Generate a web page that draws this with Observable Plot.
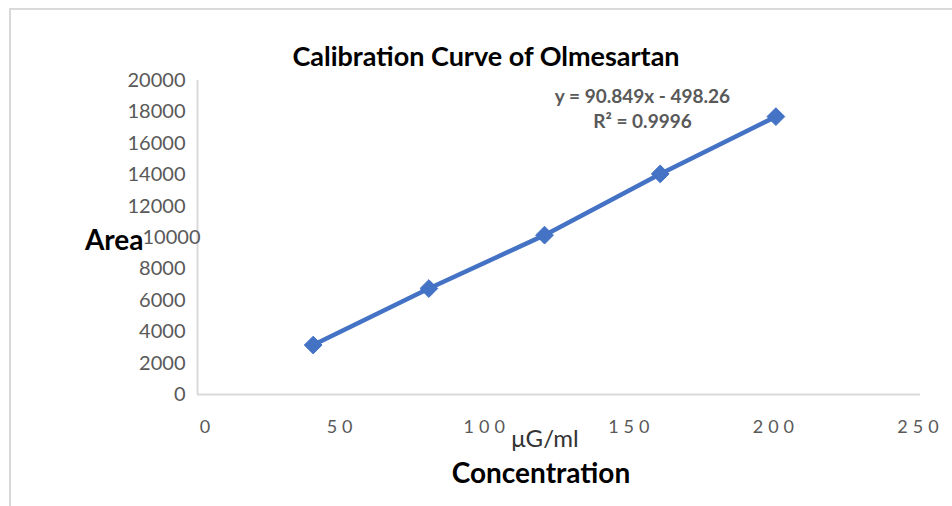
<!DOCTYPE html>
<html>
<head>
<meta charset="utf-8">
<script src="https://cdn.jsdelivr.net/npm/d3@7"></script>
<script src="https://cdn.jsdelivr.net/npm/@observablehq/plot@0.6"></script>
<style>
  html, body { margin: 0; padding: 0; background: #fff; }
  #wrap { position: relative; width: 952px; height: 506px; overflow: hidden; }
  #border { position: absolute; left: 9px; top: 8px; width: 1000px; height: 600px;
            border-left: 2px solid #d9d9d9; border-top: 2px solid #d9d9d9; }
  #chart { position: absolute; left: 0; top: 0; }
  g[aria-label="x-axis tick label"] text { letter-spacing: 5px; }
</style>
</head>
<body>
<div id="wrap"><div id="border"></div><div id="chart"></div></div>
<script>
const concentration = [40, 80, 120, 160, 200];
const area = [3150, 6750, 10150, 14050, 17700];
const xTicks = [0, 50, 100, 150, 200, 250];
const yTicks = [0, 2000, 4000, 6000, 8000, 10000, 12000, 14000, 16000, 18000, 20000];
const titleText = "Calibration Curve of Olmesartan";
const equationText = "y = 90.849x - 498.26\nR² = 0.9996";
const xUnit = "μG/ml";
const xLabel = "Concentration";
const yLabel = "Area";

const data = concentration.map((c, i) => ({c, a: area[i]}));
const font = "Lato, 'Open Sans', sans-serif";
const blue = "#4472C4";

const chart = Plot.plot({
  width: 952,
  height: 506,
  marginLeft: 197,
  marginRight: 32,
  marginTop: 80,
  marginBottom: 112,
  style: {fontFamily: font, background: "transparent", overflow: "visible"},
  x: {domain: [0, 250], label: null},
  y: {domain: [0, 20000], label: null},
  marks: [
    Plot.ruleY([0], {stroke: "#d9d9d9", strokeWidth: 2}),
    Plot.ruleX([0], {stroke: "#d9d9d9", strokeWidth: 2}),
    Plot.axisX({ticks: xTicks, tickSize: 0, tickPadding: 26, fontSize: 18, fill: "#595959", label: null}),
    Plot.axisY({ticks: yTicks, tickSize: 0, tickPadding: 12, fontSize: 20, fill: "#595959", label: null, tickFormat: d => String(d)}),
    Plot.line(data, {x: "c", y: "a", stroke: blue, strokeWidth: 4.5}),
    Plot.dot(data, {x: "c", y: "a", symbol: "diamond2", r: 8, fill: blue, stroke: blue, strokeWidth: 1}),
    Plot.text([titleText], {frameAnchor: "top", dx: -73, dy: -34, fontSize: 27, fontWeight: "bold", fill: "#000", text: d => d}),
    Plot.text([equationText], {frameAnchor: "top-left", dx: 445, dy: 5, fontSize: 19, fontWeight: "bold", fill: "#595959", lineHeight: 1.3, textAnchor: "middle", text: d => d}),
    Plot.text([yLabel], {frameAnchor: "left", dx: -54, dy: 4, fontSize: 28, fontWeight: "bold", fill: "#000", textAnchor: "end", text: d => d}),
    Plot.text([xUnit], {frameAnchor: "bottom", dx: -14, dy: 52, fontSize: 24, fill: "#333", text: d => d}),
    Plot.text([xLabel], {frameAnchor: "bottom", dx: -18, dy: 88, fontSize: 28, fontWeight: "bold", fill: "#000", text: d => d})
  ]
});
// nudge a few tick labels, as placed in the reference
d3.select(chart).selectAll('g[aria-label="y-axis tick label"] text')
  .filter(function() { return this.textContent === "10000"; })
  .attr("dx", 15);
d3.select(chart).selectAll('g[aria-label="x-axis tick label"] text')
  .filter(function() { return this.textContent === "0"; })
  .attr("dx", 10);
document.getElementById("chart").appendChild(chart);
</script>
</body>
</html>
